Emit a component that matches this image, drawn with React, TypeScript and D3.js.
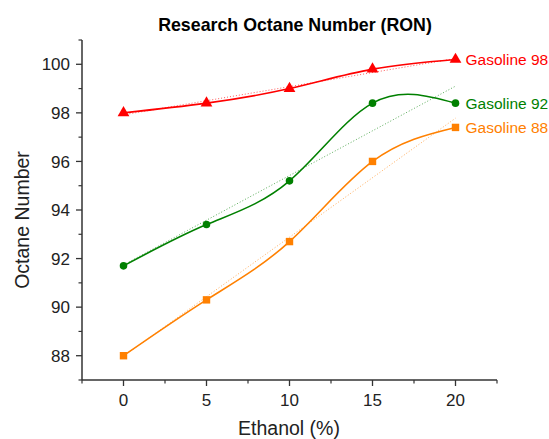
import React from 'react';
import * as d3 from 'd3';

// ethanol share (%) and RON per gasoline grade
const ethanol = [0, 5, 10, 15, 20];
const ron98 = [98.0, 98.4, 99.0, 99.8, 100.2];
const ron92 = [91.7, 93.4, 95.2, 98.4, 98.4];
const ron88 = [88.0, 90.3, 92.7, 96.0, 97.4];
const seriesNames = ['Gasoline 98', 'Gasoline 92', 'Gasoline 88'];
const xTicks = [0, 5, 10, 15, 20];
const yTicks = [88, 90, 92, 94, 96, 98, 100];

const W = 549;
const H = 439;
const margin = { top: 40, right: 52, bottom: 59, left: 82 };

const colors = ['#ff0000', '#008000', '#ff8000'];
const shapes = [d3.symbolTriangle, d3.symbolCircle, d3.symbolSquare];
const sizes = [60, 45, 55];

// least squares fit, drawn as the dotted trend line
function fit(xs: number[], ys: number[]) {
  const mx = d3.mean(xs)!;
  const my = d3.mean(ys)!;
  const sxy = d3.sum(xs, (x, i) => (x - mx) * (ys[i] - my));
  const sxx = d3.sum(xs, (x) => (x - mx) ** 2);
  const b = sxy / sxx;
  return (x: number) => my + b * (x - mx);
}

export default function App() {
  const x = d3.scaleLinear().domain([-2.5, 22.5]).range([margin.left, W - margin.right]);
  const y = d3.scaleLinear().domain([87, 101]).range([H - margin.bottom, margin.top]);
  const x0 = margin.left;
  const y0 = H - margin.bottom;

  const all = [ron98, ron92, ron88];
  const line = d3
    .line<number>()
    .x((_, i) => x(ethanol[i]))
    .y((d) => y(d))
    .curve(d3.curveNatural);

  const xMinor = d3.range(-2.5, 22.6, 2.5).filter((v) => v % 5 !== 0);
  const yMinor = d3.range(87, 101.1, 1).filter((v) => v % 2 !== 0);
  const axisColor = '#333';
  const font = 'Liberation Sans, Arial, sans-serif';

  return (
    <svg
      width={W}
      height={H}
      style={{ position: 'absolute', left: 0, top: 0, background: '#fff' }}
      fontFamily={font}
    >
      <text x={295} y={31} textAnchor="middle" fontSize={17.8} fontWeight="bold" fill="#000">
        Research Octane Number (RON)
      </text>

      {/* trend lines */}
      {all.map((s, k) => {
        const f = fit(ethanol, s);
        return (
          <line
            key={'fit' + k}
            x1={x(0)}
            x2={x(20)}
            y1={y(f(0))}
            y2={y(f(20))}
            stroke={colors[k]}
            strokeWidth={0.8}
            strokeDasharray="1,2"
            opacity={0.8}
          />
        );
      })}

      {/* spline curves + markers */}
      {all.map((s, k) => (
        <g key={'s' + k}>
          <path d={line(s)!} fill="none" stroke={colors[k]} strokeWidth={1.6} />
          {s.map((v, i) => (
            <path
              key={i}
              d={d3.symbol().type(shapes[k]).size(sizes[k])()!}
              transform={`translate(${x(ethanol[i])},${y(v)})`}
              fill={colors[k]}
            />
          ))}
          <text
            x={x(20) + 10}
            y={y(s[s.length - 1])}
            dy="0.35em"
            fontSize={15.5}
            fill={colors[k]}
          >
            {seriesNames[k]}
          </text>
        </g>
      ))}

      {/* axes */}
      <line x1={x0} x2={x0} y1={margin.top} y2={y0} stroke={axisColor} strokeWidth={1.5} />
      <line x1={x0} x2={W - margin.right} y1={y0} y2={y0} stroke={axisColor} strokeWidth={1.5} />
      {yTicks.map((t) => (
        <g key={'yt' + t}>
          <line x1={x0 - 6} x2={x0} y1={y(t)} y2={y(t)} stroke={axisColor} strokeWidth={1.3} />
          <text x={x0 - 12} y={y(t)} dy="0.36em" textAnchor="end" fontSize={17} fill="#222">
            {t}
          </text>
        </g>
      ))}
      {yMinor.map((t) => (
        <line key={'ym' + t} x1={x0 - 3.5} x2={x0} y1={y(t)} y2={y(t)} stroke={axisColor} strokeWidth={1.2} />
      ))}
      {xTicks.map((t) => (
        <g key={'xt' + t}>
          <line x1={x(t)} x2={x(t)} y1={y0} y2={y0 + 6} stroke={axisColor} strokeWidth={1.3} />
          <text x={x(t)} y={y0 + 26} textAnchor="middle" fontSize={17} fill="#222">
            {t}
          </text>
        </g>
      ))}
      {xMinor.map((t) => (
        <line key={'xm' + t} x1={x(t)} x2={x(t)} y1={y0} y2={y0 + 3.5} stroke={axisColor} strokeWidth={1.2} />
      ))}

      <text x={289} y={435} textAnchor="middle" fontSize={19.5} fill="#222">
        Ethanol (%)
      </text>
      <text
        transform={`translate(29,220) rotate(-90)`}
        textAnchor="middle"
        fontSize={19.5}
        fill="#222"
      >
        Octane Number
      </text>
    </svg>
  );
}
